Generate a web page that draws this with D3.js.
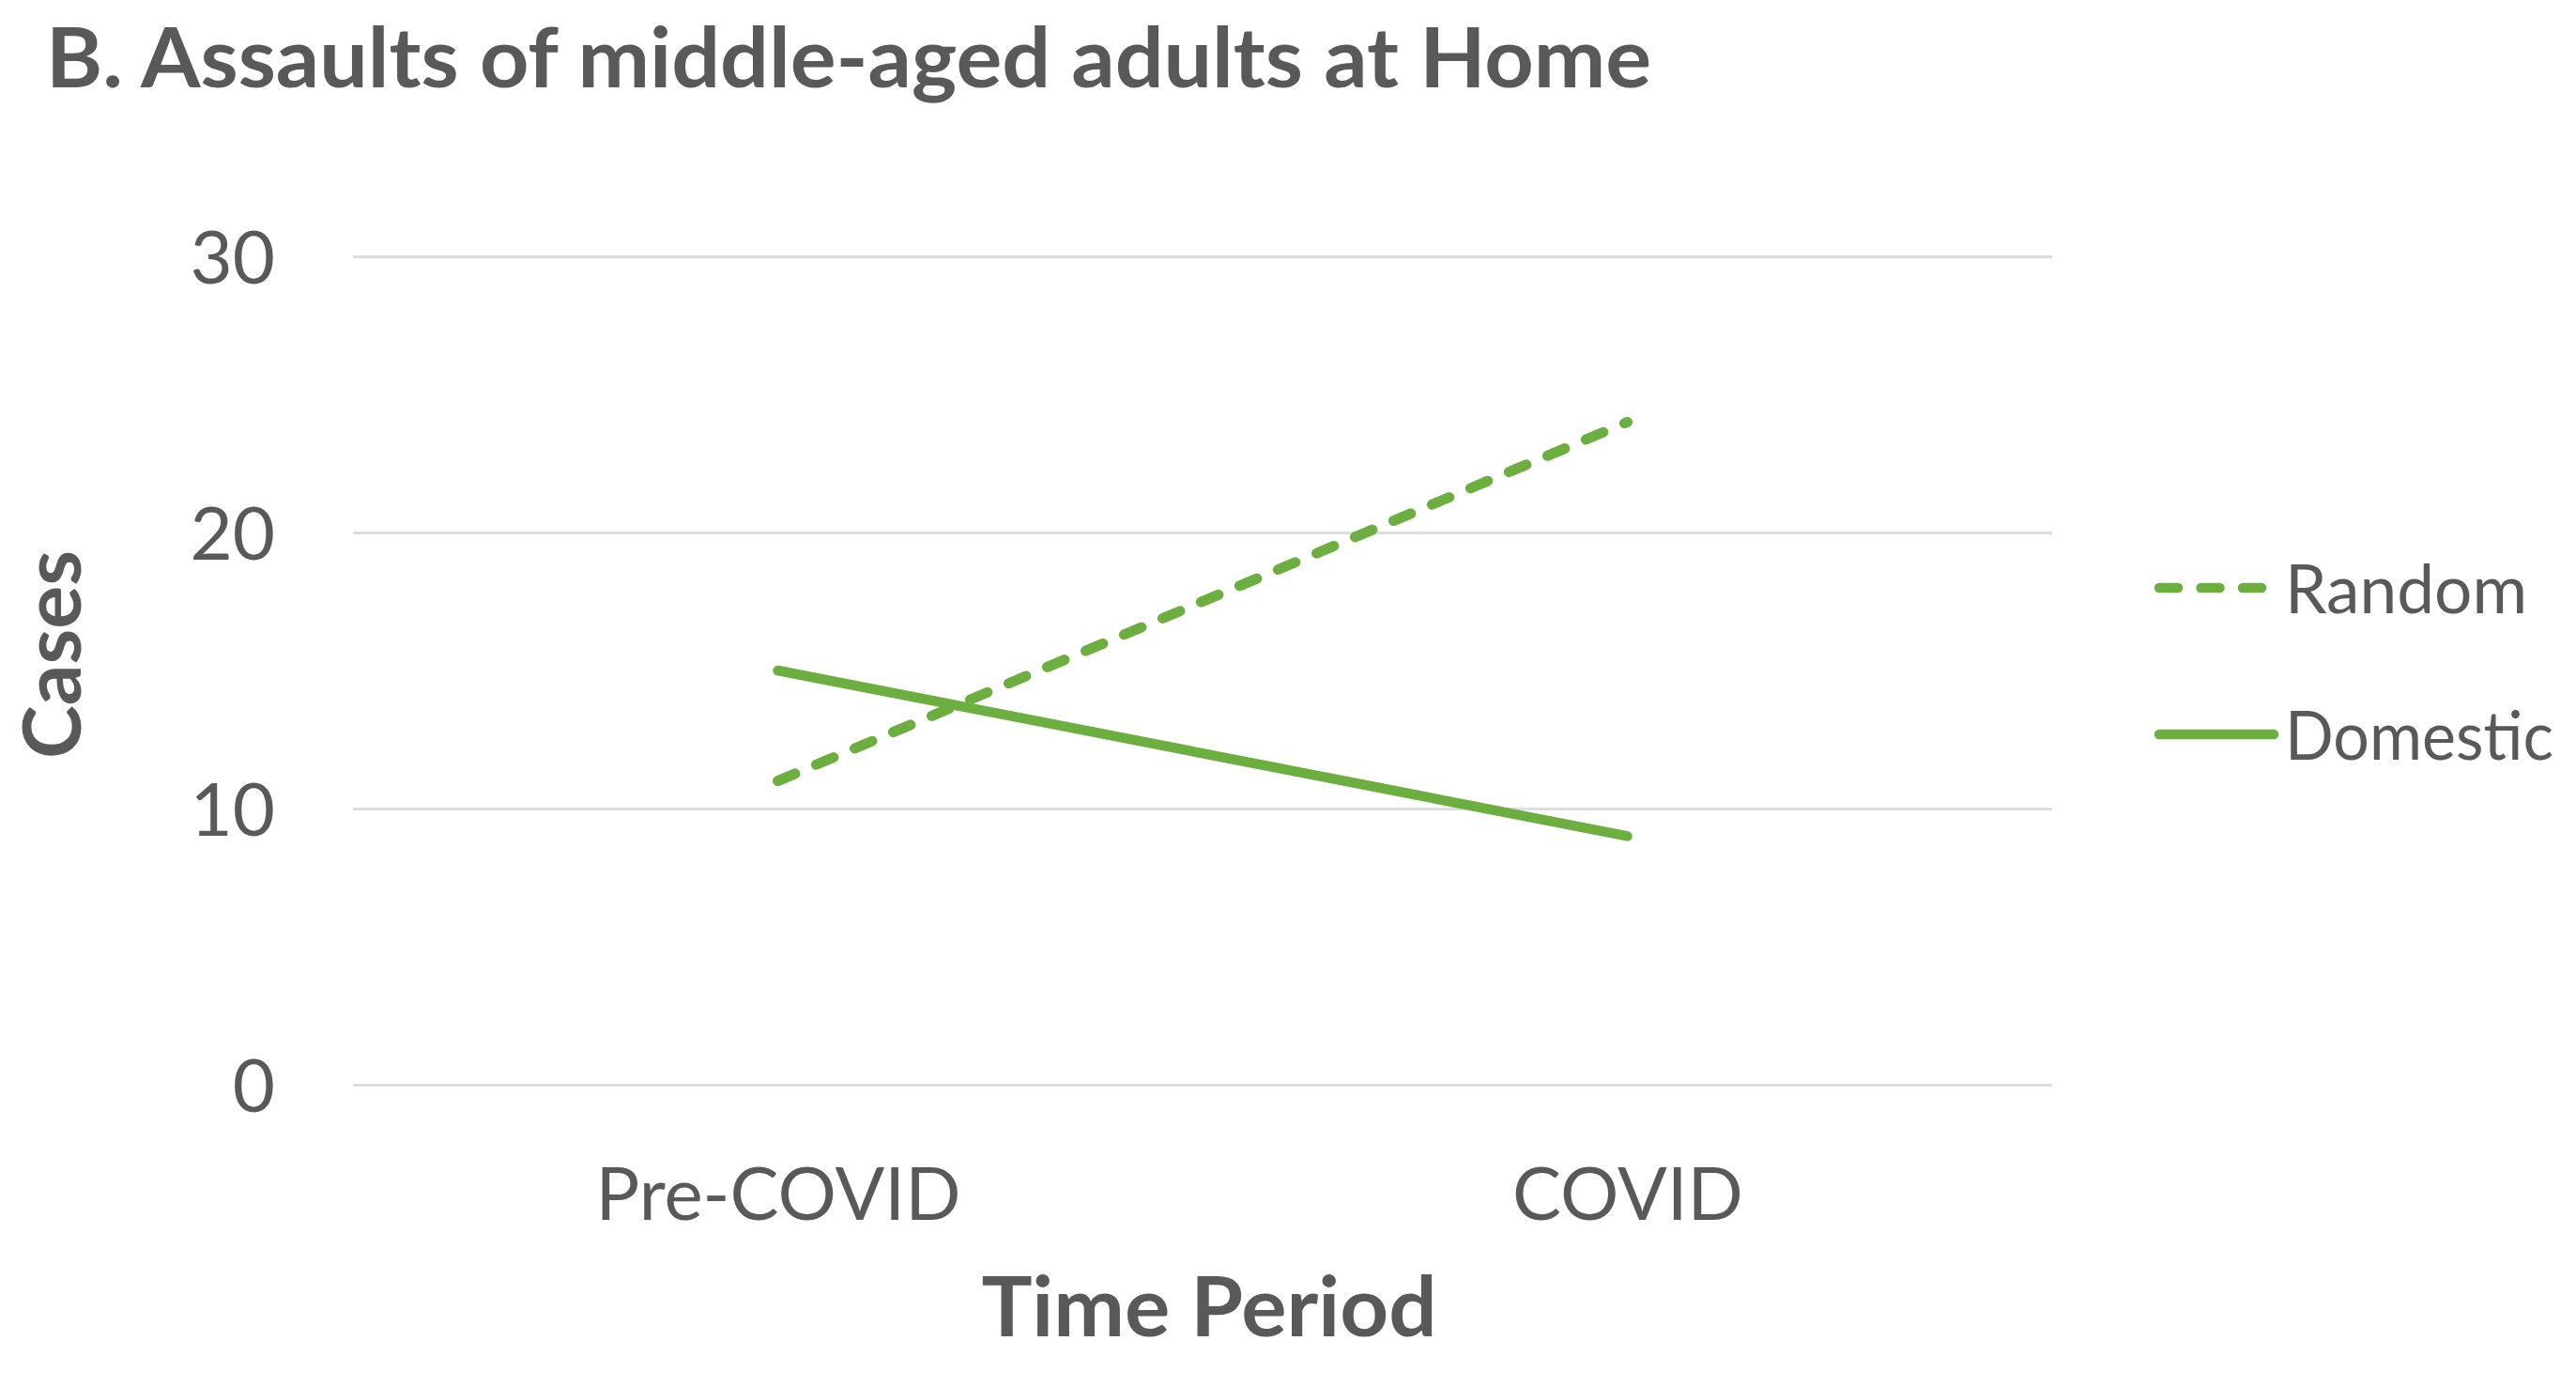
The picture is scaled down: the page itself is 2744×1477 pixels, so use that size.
<!DOCTYPE html>
<html>
<head>
<meta charset="utf-8">
<script src="https://cdn.jsdelivr.net/npm/d3@7"></script>
<style>
  body { margin: 0; background: #fff; }
  text { font-family: Lato, "Open Sans", sans-serif; fill: #595959; }
</style>
</head>
<body>
<svg id="chart" width="2744" height="1477"></svg>
<script>
const periods = ["Pre-COVID", "COVID"];
const randomCases = [11, 24];
const domesticCases = [15, 9];
const yTicks = [0, 10, 20, 30];
const seriesNames = ["Random", "Domestic"];

const svg = d3.select("#chart");
const width = +svg.attr("width");
const height = +svg.attr("height");
const margin = { top: 273, right: 558, bottom: 322, left: 376 };
const green = "#6cae40";

const x = d3.scalePoint()
  .domain(periods)
  .range([margin.left, width - margin.right])
  .padding(0.5);

const y = d3.scaleLinear()
  .domain([0, 30])
  .range([height - margin.bottom, margin.top]);

// y axis with gridlines
const yAxis = svg.append("g")
  .attr("transform", `translate(${margin.left},0)`)
  .call(d3.axisLeft(y)
    .tickValues(yTicks)
    .tickSize(-(width - margin.left - margin.right))
    .tickPadding(83));
yAxis.select(".domain").remove();
yAxis.selectAll("line")
  .attr("stroke", "#dedede")
  .attr("stroke-width", 3);
yAxis.selectAll("text")
  .attr("font-size", 78)
  .attr("font-family", "Lato, sans-serif")
  .attr("fill", "#595959")
  .attr("dy", "0.36em");

// x axis labels
const xAxis = svg.append("g")
  .attr("transform", `translate(0,${height - margin.bottom})`)
  .call(d3.axisBottom(x).tickSize(0).tickPadding(0));
xAxis.select(".domain").remove();
xAxis.selectAll("text")
  .attr("font-size", 78)
  .attr("font-family", "Lato, sans-serif")
  .attr("fill", "#595959")
  .attr("y", 144)
  .attr("dy", 0);

// lines
const line = d3.line()
  .x((d, i) => x(periods[i]))
  .y(d => y(d));

svg.append("path")
  .datum(randomCases)
  .attr("d", line)
  .attr("fill", "none")
  .attr("stroke", green)
  .attr("stroke-width", 11)
  .attr("stroke-linecap", "round")
  .attr("stroke-dasharray", "20 24.5");

svg.append("path")
  .datum(domesticCases)
  .attr("d", line)
  .attr("fill", "none")
  .attr("stroke", green)
  .attr("stroke-width", 10.5)
  .attr("stroke-linecap", "round");

// title
svg.append("text")
  .attr("x", 49)
  .attr("y", 93)
  .attr("font-size", 88)
  .attr("font-weight", "bold")
  .attr("textLength", 1710)
  .attr("lengthAdjust", "spacingAndGlyphs")
  .text("B. Assaults of middle-aged adults at Home");

// axis titles
svg.append("text")
  .attr("x", 1288)
  .attr("y", 1423)
  .attr("text-anchor", "middle")
  .attr("font-size", 88)
  .attr("font-weight", "bold")
  .attr("textLength", 485)
  .attr("lengthAdjust", "spacingAndGlyphs")
  .text("Time Period");

svg.append("text")
  .attr("transform", "translate(86,697) rotate(-90)")
  .attr("text-anchor", "middle")
  .attr("font-size", 86)
  .attr("font-weight", "bold")
  .attr("textLength", 222)
  .attr("lengthAdjust", "spacingAndGlyphs")
  .text("Cases");

// legend
const legend = svg.append("g")
  .attr("transform", "translate(2300,626)");

legend.selectAll("line")
  .data(seriesNames)
  .enter()
  .append("line")
    .attr("x1", 0)
    .attr("x2", (d, i) => i === 0 ? 110 : 122)
    .attr("y1", (d, i) => i * 156)
    .attr("y2", (d, i) => i * 156)
    .attr("stroke", green)
    .attr("stroke-width", 10.5)
    .attr("stroke-linecap", "round")
    .attr("stroke-dasharray", (d, i) => i === 0 ? "20 24.5" : null);

const legendWidths = [258, 286];
legend.selectAll("text")
  .data(seriesNames)
  .enter()
  .append("text")
    .attr("x", 134)
    .attr("y", (d, i) => i * 156 + 27)
    .attr("font-size", 72)
    .attr("textLength", (d, i) => legendWidths[i])
    .attr("lengthAdjust", "spacingAndGlyphs")
    .text(d => d);
</script>
</body>
</html>
